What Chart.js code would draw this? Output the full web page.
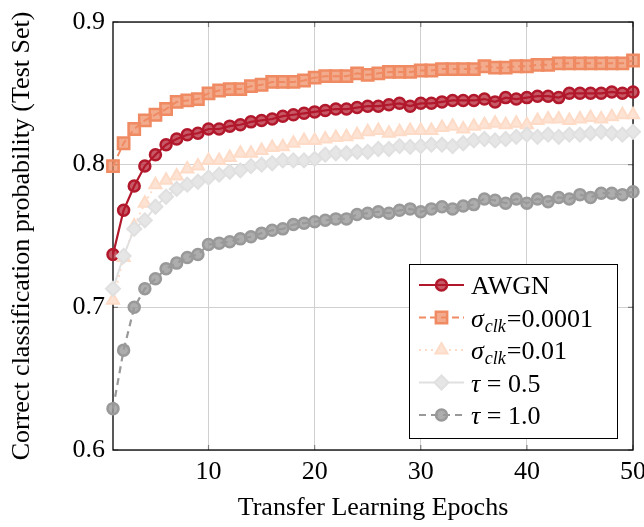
<!DOCTYPE html>
<html>
<head>
<meta charset="utf-8">
<script src="https://cdn.jsdelivr.net/npm/chart.js@4.4.0/dist/chart.umd.min.js"></script>
<style>
  html, body { margin: 0; padding: 0; background: #fff; }
  #wrap { width: 644px; height: 527px; }
</style>
</head>
<body>
<div id="wrap"><canvas id="chart" width="644" height="527"></canvas></div>
<script>
// values
const epochs = [1, 2, 3, 4, 5, 6, 7, 8, 9, 10, 11, 12, 13, 14, 15, 16, 17, 18, 19, 20,
  21, 22, 23, 24, 25, 26, 27, 28, 29, 30, 31, 32, 33, 34, 35, 36, 37, 38, 39, 40,
  41, 42, 43, 44, 45, 46, 47, 48, 49, 50];

const awgn = [0.737, 0.768, 0.785, 0.799, 0.807, 0.814, 0.818, 0.821, 0.822, 0.825,
  0.825, 0.827, 0.828, 0.830, 0.831, 0.832, 0.834, 0.835, 0.836, 0.837,
  0.838, 0.839, 0.839, 0.840, 0.841, 0.841, 0.842, 0.843, 0.841, 0.843,
  0.843, 0.844, 0.845, 0.845, 0.845, 0.846, 0.844, 0.847, 0.846, 0.847,
  0.848, 0.848, 0.847, 0.850, 0.850, 0.850, 0.850, 0.851, 0.850, 0.851];

const sigmaClk1e4 = [0.799, 0.815, 0.825, 0.831, 0.835, 0.839, 0.844, 0.845, 0.846, 0.850,
  0.852, 0.853, 0.853, 0.855, 0.856, 0.858, 0.858, 0.858, 0.859, 0.861,
  0.862, 0.862, 0.862, 0.864, 0.863, 0.864, 0.865, 0.865, 0.865, 0.866,
  0.866, 0.867, 0.867, 0.867, 0.867, 0.869, 0.868, 0.868, 0.869, 0.869,
  0.870, 0.870, 0.871, 0.871, 0.871, 0.871, 0.871, 0.871, 0.871, 0.873];

const sigmaClk1e2 = [0.705, 0.735, 0.757, 0.773, 0.786, 0.789, 0.792, 0.797, 0.799, 0.803,
  0.803, 0.805, 0.808, 0.808, 0.810, 0.812, 0.8125, 0.815, 0.817, 0.817,
  0.818, 0.819, 0.8195, 0.821, 0.823, 0.824, 0.822, 0.823, 0.824, 0.824,
  0.824, 0.826, 0.827, 0.825, 0.827, 0.828, 0.829, 0.828, 0.829, 0.828,
  0.831, 0.832, 0.832, 0.831, 0.832, 0.833, 0.832, 0.8335, 0.835, 0.835];

const tau05 = [0.713, 0.736, 0.755, 0.761, 0.7705, 0.7775, 0.783, 0.786, 0.788, 0.791,
  0.793, 0.795, 0.796, 0.799, 0.800, 0.801, 0.803, 0.803, 0.803, 0.804,
  0.807, 0.808, 0.808, 0.809, 0.809, 0.811, 0.811, 0.813, 0.8125, 0.813,
  0.814, 0.814, 0.813, 0.815, 0.817, 0.818, 0.817, 0.818, 0.8195, 0.821,
  0.8195, 0.821, 0.8195, 0.821, 0.821, 0.822, 0.823, 0.822, 0.821, 0.823];

const tau10 = [0.629, 0.670, 0.700, 0.713, 0.720, 0.727, 0.731, 0.735, 0.737, 0.744,
  0.745, 0.746, 0.748, 0.7495, 0.752, 0.754, 0.755, 0.758, 0.759, 0.760,
  0.761, 0.762, 0.762, 0.765, 0.766, 0.767, 0.766, 0.768, 0.769, 0.767,
  0.769, 0.7705, 0.769, 0.771, 0.772, 0.776, 0.775, 0.773, 0.776, 0.773,
  0.776, 0.774, 0.777, 0.776, 0.779, 0.777, 0.780, 0.780, 0.779, 0.781];

const seriesLabels = ["AWGN", "σclk=0.0001", "σclk=0.01", "τ = 0.5", "τ = 1.0"];
const xTicks = [10, 20, 30, 40, 50];
const yTicks = [0.6, 0.7, 0.8, 0.9];

const SERIF = "'Liberation Serif', 'Times New Roman', serif";

function pts(vals) {
  return epochs.map((e, i) => ({ x: e, y: vals[i] }));
}

const datasets = [
  {
    label: seriesLabels[0], data: pts(awgn), order: 5,
    borderColor: "#b2182b", borderWidth: 2.2,
    pointStyle: "circle", pointRadius: 5.5, pointBorderWidth: 2.5,
    pointBackgroundColor: "rgba(178,24,43,0.72)", pointBorderColor: "#b2182b"
  },
  {
    label: seriesLabels[1], data: pts(sigmaClk1e4), order: 4,
    borderColor: "#ef8a62", borderWidth: 2, borderDash: [7, 4],
    pointStyle: "rect", pointRadius: 8, pointBorderWidth: 2.5,
    pointBackgroundColor: "rgba(239,138,98,0.72)", pointBorderColor: "#ef8a62"
  },
  {
    label: seriesLabels[2], data: pts(sigmaClk1e2), order: 3,
    borderColor: "#fddbc7", borderWidth: 2, borderDash: [2, 4],
    pointStyle: "triangle", pointRadius: 7, pointBorderWidth: 2,
    pointBackgroundColor: "#fde3d4", pointBorderColor: "#fddbc7"
  },
  {
    label: seriesLabels[3], data: pts(tau05), order: 2,
    borderColor: "#e0e0e0", borderWidth: 2,
    pointStyle: "rectRot", pointRadius: 7, pointBorderWidth: 2,
    pointBackgroundColor: "#e6e6e6", pointBorderColor: "#e0e0e0"
  },
  {
    label: seriesLabels[4], data: pts(tau10), order: 1,
    borderColor: "#999999", borderWidth: 2.2, borderDash: [7, 5],
    pointStyle: "circle", pointRadius: 5.5, pointBorderWidth: 2.5,
    pointBackgroundColor: "rgba(153,153,153,0.8)", pointBorderColor: "#999999"
  }
];
datasets.forEach(d => { d.fill = false; d.tension = 0; d.clip = false; });

// axis box with the small inner tick marks
const framePlugin = {
  id: "frame",
  beforeDatasetsDraw(chart) {
    const { ctx, chartArea: a, scales } = chart;
    ctx.save();
    ctx.strokeStyle = "#808080";
    ctx.lineWidth = 1.2;
    ctx.beginPath();
    xTicks.forEach(v => {
      const px = scales.x.getPixelForValue(v);
      ctx.moveTo(px, a.bottom); ctx.lineTo(px, a.bottom - 5);
      ctx.moveTo(px, a.top); ctx.lineTo(px, a.top + 5);
    });
    yTicks.forEach(v => {
      const py = scales.y.getPixelForValue(v);
      ctx.moveTo(a.left, py); ctx.lineTo(a.left + 5, py);
      ctx.moveTo(a.right, py); ctx.lineTo(a.right - 5, py);
    });
    ctx.stroke();
    ctx.strokeStyle = "#000";
    ctx.lineWidth = 1.3;
    ctx.strokeRect(a.left, a.top, a.right - a.left, a.bottom - a.top);
    ctx.restore();
  }
};

// legend box inside the plot, lower right
function drawMarker(ctx, ds, x, y) {
  Chart.helpers.drawPoint(ctx, {
    pointStyle: ds.pointStyle, radius: ds.pointRadius, rotation: 0,
    borderWidth: ds.pointBorderWidth
  }, x, y);
}

function drawLabel(ctx, label, x, y) {
  ctx.textBaseline = "alphabetic";
  ctx.fillStyle = "#000";
  const base = y + 9;
  if (label.startsWith("σclk")) {
    ctx.font = "italic 26px " + SERIF;
    ctx.fillText("σ", x, base);
    let cx = x + ctx.measureText("σ").width + 1;
    ctx.font = "italic 18px " + SERIF;
    ctx.fillText("clk", cx, base + 5);
    cx += ctx.measureText("clk").width + 1;
    ctx.font = "26px " + SERIF;
    ctx.fillText(label.slice(4), cx, base);
  } else if (label.startsWith("τ")) {
    ctx.font = "italic 26px " + SERIF;
    ctx.fillText("τ", x, base);
    const cx = x + ctx.measureText("τ").width;
    ctx.font = "26px " + SERIF;
    ctx.fillText(label.slice(1), cx, base);
  } else {
    ctx.font = "26px " + SERIF;
    ctx.fillText(label, x, base);
  }
}

const legendPlugin = {
  id: "insideLegend",
  afterDraw(chart) {
    const { ctx, chartArea: a } = chart;
    const w = 208, h = 174;
    const bx = a.right - 16 - w, by = a.bottom - 12 - h;
    ctx.save();
    ctx.fillStyle = "#fff";
    ctx.fillRect(bx, by, w, h);
    ctx.strokeStyle = "#000";
    ctx.lineWidth = 1;
    ctx.strokeRect(bx + 0.5, by + 0.5, w, h);
    chart.data.datasets.forEach((ds, i) => {
      const ry = by + 21 + i * 32.5;
      ctx.save();
      ctx.strokeStyle = ds.borderColor;
      ctx.lineWidth = ds.borderWidth;
      ctx.setLineDash(ds.borderDash || []);
      ctx.beginPath();
      ctx.moveTo(bx + 10, ry);
      ctx.lineTo(bx + 55, ry);
      ctx.stroke();
      ctx.setLineDash([]);
      ctx.fillStyle = ds.pointBackgroundColor;
      ctx.strokeStyle = ds.pointBorderColor;
      ctx.lineWidth = ds.pointBorderWidth;
      drawMarker(ctx, ds, bx + 32.5, ry);
      ctx.restore();
      drawLabel(ctx, ds.label, bx + 62, ry);
    });
    ctx.restore();
  }
};

const ctx = document.getElementById("chart").getContext("2d");
const myChart = new Chart(ctx, {
  type: "line",
  data: { datasets: datasets },
  options: {
    responsive: false,
    animation: false,
    layout: { padding: { top: 22, right: 11, left: 0, bottom: 0 } },
    plugins: { legend: { display: false }, tooltip: { enabled: false } },
    scales: {
      x: {
        type: "linear", min: 1, max: 50,
        afterBuildTicks: s => { s.ticks = xTicks.map(v => ({ value: v })); },
        afterFit: s => { s.height = 77; s.paddingRight = 0; s.paddingLeft = 0; },
        border: { display: false },
        grid: { color: "#d0d0d0", lineWidth: 1, drawTicks: false },
        ticks: {
          padding: 7, color: "#000", maxRotation: 0, autoSkip: false,
          font: { family: SERIF, size: 26 },
          callback: v => String(v)
        },
        title: {
          display: true, text: "Transfer Learning Epochs", color: "#000",
          font: { family: SERIF, size: 26 }, padding: { top: 0, bottom: 3 }
        }
      },
      y: {
        min: 0.6, max: 0.9,
        afterBuildTicks: s => { s.ticks = yTicks.map(v => ({ value: v })); },
        afterFit: s => { s.width = 113; s.paddingTop = 0; s.paddingBottom = 0; },
        border: { display: false },
        grid: { color: "#d0d0d0", lineWidth: 1, drawTicks: false },
        ticks: {
          padding: 8, color: "#000",
          font: { family: SERIF, size: 26 },
          callback: v => Number(v).toFixed(1)
        },
        title: {
          display: true, text: "Correct classification probability (Test Set)", color: "#000",
          font: { family: SERIF, size: 26 }, padding: { top: 7, bottom: 0 }
        }
      }
    }
  },
  plugins: [framePlugin, legendPlugin]
});
</script>
</body>
</html>
